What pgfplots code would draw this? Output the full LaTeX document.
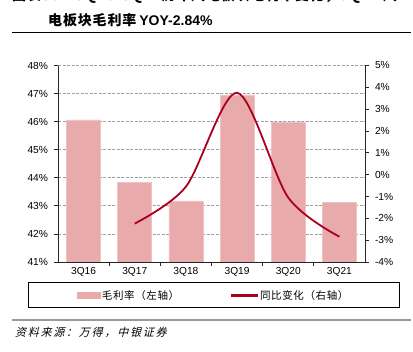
\documentclass[border=0pt]{standalone}
\usepackage{pgfplots}
\pgfplotsset{compat=1.18}
\usepackage{fontspec}
\setmainfont{Liberation Sans}
\newfontfamily\cjk{Noto Sans CJK SC}
\newfontfamily\cjkT{Noto Sans CJK SC}[LetterSpace=6]
\newfontfamily\cjkL{Noto Sans CJK SC}[LetterSpace=6]
\newfontfamily\cjkS{Noto Sans CJK SC}[FakeSlant=0.25,LetterSpace=16]
\definecolor{barc}{HTML}{E8AAAA}
\definecolor{linec}{HTML}{A8001E}
\begin{document}
\begin{tikzpicture}[x=1pt,y=1pt]
\path[use as bounding box] (0,0) rectangle (413,352);
\clip (0,0) rectangle (413,352);
\node[anchor=west, inner sep=0] at (12,356.5) {\fontsize{14}{16}\selectfont\cjkT\bfseries 图表30：3Q16-3Q21历年风电板块毛利率变化，3Q21 风};
\node[anchor=west, inner sep=0] at (48,332) {\fontsize{14}{16}\selectfont{\cjkT\bfseries 电板块毛利率}\hspace{3pt}{\bfseries YOY-2.84\%}};
\draw[line width=1pt] (12,319) -- (411,319);
\draw[line width=1.5pt, gray!80] (12,32) -- (411,32);
\node[anchor=west, inner sep=0] at (15,20) {\fontsize{11}{12}\selectfont\cjkS 资料来源：万得，中银证券};
\draw[line width=1pt] (28,44) rectangle (399,69);

\begin{axis}[
  at={(58pt,90pt)}, anchor=south west, scale only axis,
  width=307pt, height=196.5pt,
  xmin=-0.5, xmax=5.5, ymin=41, ymax=48,
  axis y line*=left, axis x line*=bottom,
  xtick={0.5,1.5,2.5,3.5,4.5}, xticklabels={},
  extra x ticks={0,1,2,3,4,5},
  extra x tick labels={3Q16,3Q17,3Q18,3Q19,3Q20,3Q21},
  extra x tick style={major tick length=0pt, xticklabel style={yshift=-2pt}},
  ytick={41,42,43,44,45,46,47,48},
  yticklabels={41\%,42\%,43\%,44\%,45\%,46\%,47\%,48\%},
  yticklabel style={xshift=-2.5pt},
  tick align=outside, major tick length=4pt,
  ymajorgrids, grid style={gray!75, line width=0.8pt, dash pattern=on 3pt off 1.5pt},
  axis line style={black!85, line width=0.8pt},
  tick style={black!85, line width=0.8pt},
  tick label style={font=\fontsize{10.2}{12}\selectfont},
]
\addplot[ybar, bar width=34pt, fill=barc, draw=barc!70!white, line width=0.5pt]
  coordinates {(0,46.06) (1,43.83) (2,43.18) (3,46.95) (4,45.99) (5,43.13)};
\end{axis}

\begin{axis}[
  at={(58pt,90pt)}, anchor=south west, scale only axis,
  width=307pt, height=196.5pt,
  xmin=-0.5, xmax=5.5, ymin=-4, ymax=5,
  axis y line*=right, axis x line=none,
  ytick={-4,-3,-2,-1,0,1,2,3,4,5},
  yticklabels={-4\%,-3\%,-2\%,-1\%,0\%,1\%,2\%,3\%,4\%,5\%},
  yticklabel style={xshift=2.5pt},
  tick align=outside, major tick length=4pt,
  axis line style={black!85, line width=0.8pt},
  tick style={black!85, line width=0.8pt},
  tick label style={font=\fontsize{10.2}{12}\selectfont},
  legend style={at={(0.5065,-0.1705)}, anchor=center, draw=none, fill=none,
    legend columns=2, font=\fontsize{10.5}{12}\selectfont\cjkL,
    inner xsep=2pt, inner ysep=1pt,
    /tikz/every even column/.append style={column sep=50pt}},
]
\addlegendimage{legend image code/.code={\fill[barc] (0pt,-3pt) rectangle (23pt,3pt);}}
\addlegendentry{毛利率（左轴）}
\addplot[linec, line width=1.8pt, smooth, tension=0.5,
  legend image code/.code={\fill[linec] (0pt,-1pt) rectangle (25pt,1pt);}]
  coordinates {(1,-2.24) (2,-0.55) (3,3.75) (4,-1.05) (5,-2.84)};
\addlegendentry{同比变化（右轴）}
\end{axis}
\end{tikzpicture}
\end{document}
